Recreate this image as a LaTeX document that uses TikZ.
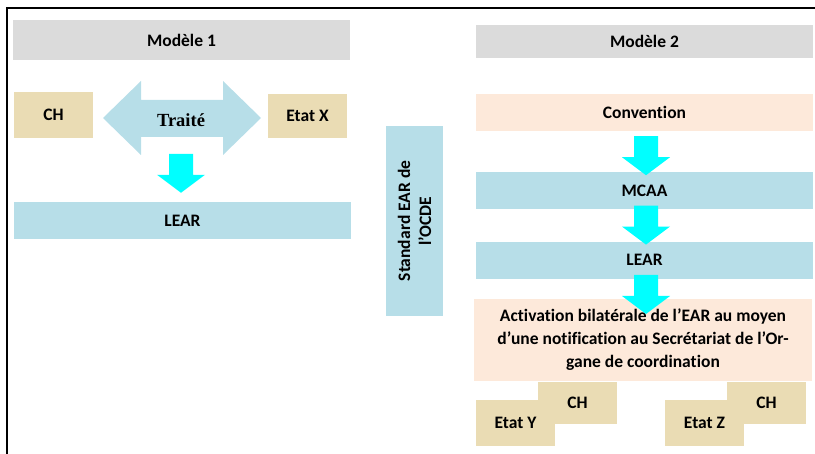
\documentclass[tikz,border=0pt]{standalone}
\usepackage{fontspec}
\setmainfont{Carlito}[Ligatures=NoCommon]
\newfontfamily\traitefont{Liberation Serif}
\usetikzlibrary{positioning, calc}

\definecolor{boxgray}{HTML}{DBDBDB}
\definecolor{boxtan}{HTML}{EADCB4}
\definecolor{boxblue}{HTML}{B7DEE8}
\definecolor{boxpeach}{HTML}{FDE9DA}
\definecolor{arrcyan}{HTML}{00FFFF}

\begin{document}
\begin{tikzpicture}[x=1pt, y=-1pt,
    lbl/.style={font=\bfseries\fontsize{17.5}{23}\selectfont, inner sep=0pt},
    wide/.style={lbl, minimum width=337pt, minimum height=37pt},
    state/.style={lbl, fill=boxtan, minimum width=79pt, minimum height=44pt},
    downarr/.pic={\fill[arrcyan] (-12,0) -- (12,0) -- (12,21) -- (24,21) -- (0,39) -- (-24,21) -- (-12,21) -- cycle;}]
    \useasboundingbox (0,0) rectangle (815,454);
    \draw[line width=2.4pt] (7,454) -- (7,8) -- (815,8);

    % Modele 1
    \node[wide, fill=boxgray, minimum height=40pt] (m1) at (181.5,40) {Modèle 1};
    \node[state, minimum height=46pt] (ch1) at (53.5,115) {CH};
    \node[state] (etatX) at (307.5,116) {Etat X};
    \fill[boxblue] (103,118) -- (141,81) -- (141,100) -- (223,100) -- (223,81) -- (261,118)
        -- (223,155) -- (223,137) -- (141,137) -- (141,155) -- cycle;
    \node[font=\traitefont\bfseries\fontsize{18.5}{22}\selectfont, inner sep=0pt] (traite) at (181,120) {Traité};
    \node[wide, fill=boxblue] (lear1) at (182.5,220.5) {LEAR};
    \pic at ($(lear1.north -| traite)+(0,-48)$) {downarr};

    % Standard
    \node[lbl, fill=boxblue, font=\bfseries\fontsize{17.5}{21}\selectfont, minimum width=190pt, minimum height=57pt,
        rotate=90, align=center] (std) at (414.5,221) {Standard EAR de\\l’OCDE};

    % Modele 2
    \node[wide, fill=boxgray, minimum height=33pt] (m2) at (644.5,41.5) {Modèle 2};
    \node[wide, fill=boxpeach] (conv) at (644.5,112.5) {Convention};
    \node[wide, fill=boxblue, below=41pt of conv] (mcaa) {MCAA};
    \node[wide, fill=boxblue, below=32pt of mcaa] (lear2) {LEAR};
    \node[wide, fill=boxpeach, minimum width=338pt, minimum height=82pt] (activ) at (643,340)
        {\raisebox{-7pt}{\begin{tabular}{@{}c@{}}Activation bilatérale de l’EAR au moyen\\d’une notification au Secrétariat de l’Or-\\gane de coordination\end{tabular}}};
    \pic at ($(conv.south)+(1.5,5)$) {downarr};
    \pic at ($(mcaa.south)+(1.5,-4)$) {downarr};
    \pic at ($(lear2.south)+(1.5,-4)$) {downarr};

    \node[state, minimum height=42pt] (chY) at (577.5,403) {CH};
    \node[state, minimum height=46pt] (etatY) at (515.5,423) {Etat Y};
    \node[state, minimum height=42pt] (chZ) at (766.5,403) {CH};
    \node[state, minimum height=46pt] (etatZ) at (704.5,423) {Etat Z};
\end{tikzpicture}
\end{document}
